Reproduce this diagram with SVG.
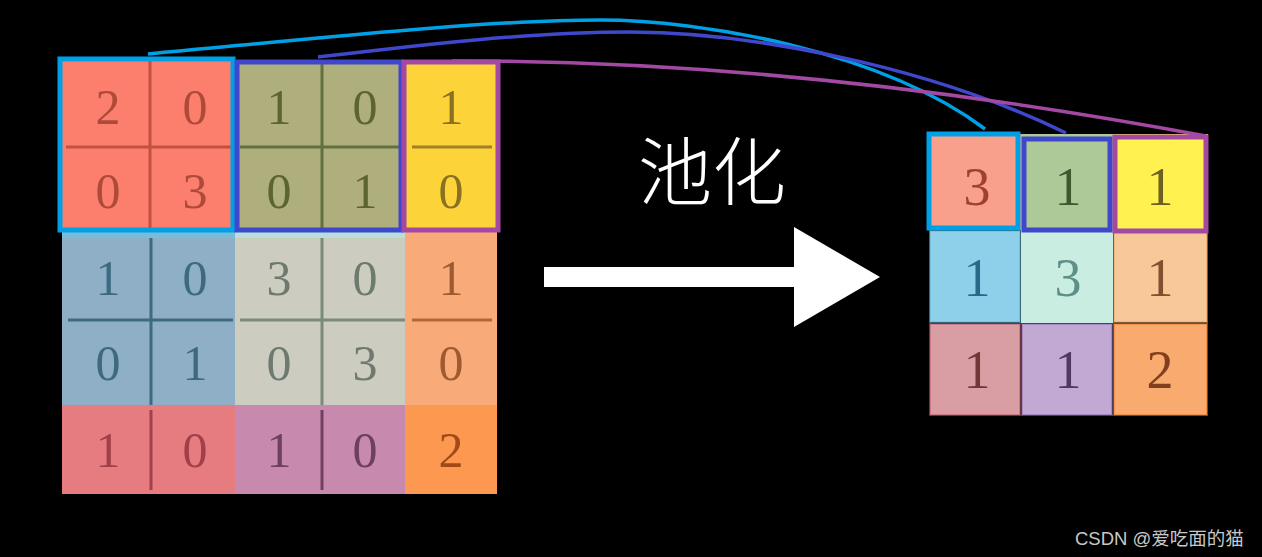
<svg xmlns="http://www.w3.org/2000/svg" width="1262" height="557" viewBox="0 0 1262 557">
<style>
.d{font-family:"Liberation Serif","DejaVu Serif",serif;font-size:50px;text-anchor:middle}
.r{font-family:"Liberation Serif","DejaVu Serif",serif;font-size:54px;text-anchor:middle}
.gl{stroke-width:3;fill:none}
.fr{fill:none;stroke-width:5}
.cv{fill:none;stroke-width:3.5}
.rc{stroke-width:2;stroke-opacity:0.55}
</style>
<rect width="1262" height="557" fill="#000"/>

<g id="left-grid">
  <g id="blk-red">
    <rect x="62" y="60" width="173" height="172" fill="#FC7E6C"/>
    <path class="gl" stroke="#C4503E" d="M150,60V232M66,147H235"/>
    <g class="d" fill="#AE4A3A"><text x="108" y="124">2</text><text x="195" y="124">0</text><text x="108" y="208">0</text><text x="195" y="208">3</text></g>
  </g>
  <g id="blk-olive">
    <rect x="235" y="60" width="170" height="172" fill="#AFAE7D"/>
    <path class="gl" stroke="#627040" d="M322,60V232M240,147H405"/>
    <g class="d" fill="#5C6430"><text x="279" y="124">1</text><text x="365" y="124">0</text><text x="279" y="208">0</text><text x="365" y="208">1</text></g>
  </g>
  <g id="blk-yellow">
    <rect x="405" y="60" width="92" height="172" fill="#FDD33A"/>
    <path class="gl" stroke="#A08028" d="M412,147H492"/>
    <g class="d" fill="#8A7020"><text x="451" y="124">1</text><text x="451" y="208">0</text></g>
  </g>
  <g id="blk-bluegray">
    <rect x="62" y="232" width="173" height="173" fill="#8EAFC6"/>
    <rect x="62" y="232" width="173" height="6" fill="#78BCDA"/>
    <path class="gl" stroke="#3E6A80" d="M151,238V405M68,320H233"/>
    <g class="d" fill="#3E6A80"><text x="108" y="295">1</text><text x="195" y="295">0</text><text x="108" y="380">0</text><text x="195" y="380">1</text></g>
  </g>
  <g id="blk-gray">
    <rect x="235" y="232" width="170" height="173" fill="#CCCDC0"/>
    <rect x="235" y="232" width="170" height="6" fill="#B8E0D8"/>
    <path class="gl" stroke="#7A8A7C" d="M322,238V405M240,320H405"/>
    <g class="d" fill="#6E7A70"><text x="279" y="295">3</text><text x="365" y="295">0</text><text x="279" y="380">0</text><text x="365" y="380">3</text></g>
  </g>
  <g id="blk-orange">
    <rect x="405" y="232" width="92" height="173" fill="#F8AB78"/>
    <path class="gl" stroke="#B06838" d="M412,320H492"/>
    <g class="d" fill="#9E5A30"><text x="451" y="295">1</text><text x="451" y="380">0</text></g>
  </g>
  <g id="blk-pink">
    <rect x="62" y="405" width="173" height="89" fill="#E67C80"/>
    <path class="gl" stroke="#A04050" d="M151,410V490"/>
    <g class="d" fill="#A04048"><text x="108" y="467">1</text><text x="195" y="467">0</text></g>
  </g>
  <g id="blk-purple">
    <rect x="235" y="405" width="170" height="89" fill="#C78AAE"/>
    <path class="gl" stroke="#704060" d="M322,410V490"/>
    <g class="d" fill="#6E4060"><text x="279" y="467">1</text><text x="365" y="467">0</text></g>
  </g>
  <g id="blk-darkorange">
    <rect x="405" y="405" width="92" height="89" fill="#FD9850"/>
    <g class="d" fill="#A04A1A"><text x="451" y="467">2</text></g>
  </g>
  <rect class="fr" x="60" y="59" width="173" height="171" stroke="#00A0E6"/>
  <rect class="fr" x="237" y="62" width="164" height="168" stroke="#3F48CC"/>
  <rect class="fr" x="404" y="62" width="94" height="168" stroke="#A349A4"/>
</g>

<g id="pool-label">
  <text x="712" y="199" font-family="'Noto Sans CJK SC','Noto Sans CJK JP',sans-serif" font-size="74" font-weight="300" fill="#fff" text-anchor="middle">池化</text>
</g>

<g id="pool-arrow">
  <path d="M544,267H794V227L880,277L794,327V287H544Z" fill="#fff"/>
</g>

<g id="right-grid">
  <g id="r-red"><rect x="929" y="134" width="92" height="96" fill="#F9A08C"/><text class="r" x="977" y="205" fill="#A04030">3</text></g>
  <g id="r-green"><rect x="1021" y="134" width="92" height="96" fill="#ADC998"/><text class="r" x="1068" y="205" fill="#405A30">1</text></g>
  <g id="r-yellow"><rect x="1113" y="134" width="95" height="96" fill="#FFF250"/><text class="r" x="1160" y="205" fill="#6E6020">1</text></g>
  <g id="r-lightblue"><rect class="rc" x="930" y="231" width="90" height="91" fill="#8ED0EA" stroke="#6AB8D8"/><text class="r" x="977" y="296" fill="#2A6A88">1</text></g>
  <g id="r-mint"><rect x="1021" y="230" width="92" height="93" fill="#CAEDE2"/><text class="r" x="1068" y="296" fill="#5E9088">3</text></g>
  <g id="r-peach"><rect class="rc" x="1114" y="231" width="93" height="91" fill="#F8C898" stroke="#E8A870"/><text class="r" x="1160" y="296" fill="#805030">1</text></g>
  <g id="r-pink"><rect class="rc" x="930" y="324" width="90" height="91" fill="#D99EA4" stroke="#C06070"/><text class="r" x="977" y="388" fill="#703838">1</text></g>
  <g id="r-lavender"><rect class="rc" x="1022" y="324" width="90" height="91" fill="#C1A9D3" stroke="#9070B0"/><text class="r" x="1068" y="388" fill="#503860">1</text></g>
  <g id="r-orange"><rect class="rc" x="1114" y="324" width="93" height="91" fill="#F9AA6E" stroke="#F08030"/><text class="r" x="1160" y="388" fill="#804020">2</text></g>
  <rect class="fr" x="929" y="134" width="89" height="94" stroke="#00A0E6"/>
  <rect class="fr" x="1024" y="139" width="86" height="91" stroke="#3F48CC"/>
  <rect class="fr" x="1115" y="137" width="91" height="94" stroke="#A349A4"/>
</g>

<g id="connectors">
  <path class="cv" stroke="#00A0E6" d="M148,54C300,40 480,20 600,20C700,20 880,50 985,129"/>
  <path class="cv" stroke="#3F48CC" d="M318,57C420,45 530,32 630,32C740,32 920,62 1066,133"/>
  <path class="cv" stroke="#A349A4" d="M452,61Q800,60 1206,136"/>
</g>

<g id="watermark">
  <text x="1075" y="545" font-family="'Liberation Sans','Noto Sans CJK SC',sans-serif" font-size="18.5" fill="#c8c8c8">CSDN @爱吃面的猫</text>
</g>
</svg>
